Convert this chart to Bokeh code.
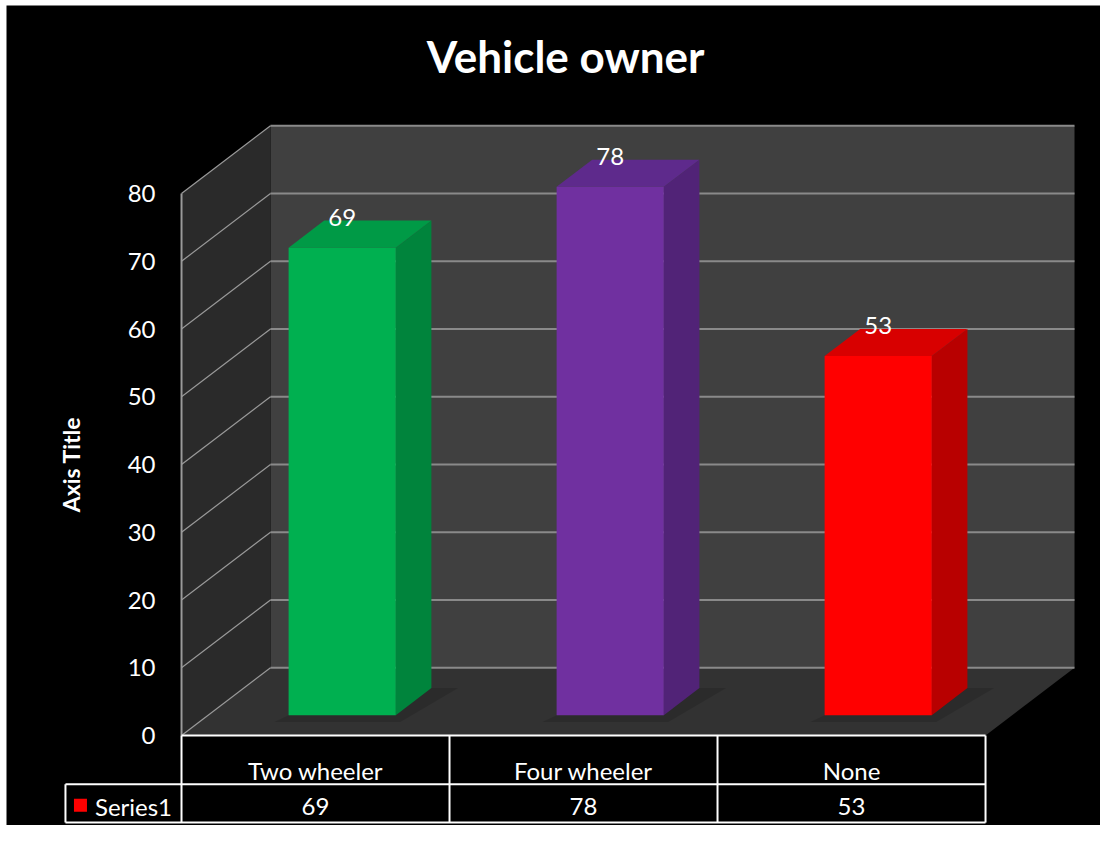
import math
from bokeh.plotting import figure
from bokeh.core.properties import value
from bokeh.embed import file_html
from bokeh.resources import INLINE

# ---- data ----
categories = ["Two wheeler", "Four wheeler", "None"]
values = [69, 78, 53]
series_name = "Series1"
y_ticks = [0, 10, 20, 30, 40, 50, 60, 70, 80]
title_text = "Vehicle owner"
axis_title = "Axis Title"

front_colors = ["#00B050", "#7030A0", "#FF0000"]
side_colors = ["#00843C", "#512377", "#B80000"]
top_colors = ["#009A46", "#5E2A8C", "#D80000"]

# ---- 3D projection constants (data units) ----
DX = 0.332   # depth offset in x (category units)
DY = 10.0    # depth offset in y (value units)
YMAX = y_ticks[-1]
N = len(categories)
BW = 0.2     # half bar width
Z0, Z1 = 0.3, 0.7

def proj(x, y, z):
    return x + z * DX, y + z * DY

FONT = "Lato"

p = figure(width=1100, height=825, x_range=(-0.653, 3.429), y_range=(-13.28, 107.75),
           output_backend="svg", toolbar_location=None,
           min_border_left=6, min_border_top=5, min_border_right=0, min_border_bottom=0,
           background_fill_color="black", border_fill_color="white",
           outline_line_color=None)
p.axis.visible = False
p.grid.visible = False

# walls and floor
back_x = [DX, N + DX, N + DX, DX]
back_y = [DY, DY, YMAX + DY, YMAX + DY]
left_x = [0, DX, DX, 0]
left_y = [0, DY, YMAX + DY, YMAX]
floor_x = [0, N, N + DX, DX]
floor_y = [0, 0, DY, DY]
p.patch(back_x, back_y, fill_color="#404040", line_color=None)
p.patch(left_x, left_y, fill_color="#2a2a2a", line_color=None)
p.patch(floor_x, floor_y, fill_color="#323232", line_color=None)

# gridlines
grid_color = "#8a8a8a"
p.segment(x0=[DX] * len(y_ticks), y0=[t + DY for t in y_ticks],
          x1=[N + DX] * len(y_ticks), y1=[t + DY for t in y_ticks],
          line_color=grid_color, line_width=2)
p.segment(x0=[0] * len(y_ticks), y0=y_ticks,
          x1=[DX] * len(y_ticks), y1=[t + DY for t in y_ticks],
          line_color="#9a9a9a", line_width=1.2)
p.segment(x0=[0], y0=[0], x1=[0], y1=[YMAX], line_color="#9a9a9a", line_width=2)

# bars
fx, fy, sx, sy, tx, ty, shx, shy = [], [], [], [], [], [], [], []
for i, v in enumerate(values):
    xc = i + 0.5
    pts = [proj(xc - BW, 0, Z0), proj(xc + BW, 0, Z0), proj(xc + BW, v, Z0), proj(xc - BW, v, Z0)]
    fx.append([q[0] for q in pts]); fy.append([q[1] for q in pts])
    pts = [proj(xc + BW, 0, Z0), proj(xc + BW, 0, Z1), proj(xc + BW, v, Z1), proj(xc + BW, v, Z0)]
    sx.append([q[0] for q in pts]); sy.append([q[1] for q in pts])
    pts = [proj(xc - BW, v, Z0), proj(xc + BW, v, Z0), proj(xc + BW, v, Z1), proj(xc - BW, v, Z1)]
    tx.append([q[0] for q in pts]); ty.append([q[1] for q in pts])
    pts = [proj(xc - BW - 0.02, 0, Z0 - 0.1), proj(xc + BW + 0.05, 0, Z0 - 0.1),
           proj(xc + BW + 0.1, 0, Z1), proj(xc + BW, 0, Z1), proj(xc - BW, 0, Z0)]
    shx.append([q[0] for q in pts]); shy.append([q[1] for q in pts])

p.patches(shx, shy, fill_color="black", fill_alpha=0.13, line_color=None)
p.patches(sx, sy, fill_color=side_colors, line_color=None)
p.patches(tx, ty, fill_color=top_colors, line_color=None)
p.patches(fx, fy, fill_color=front_colors, line_color=None)

# data labels
lab_x = [i + 0.5 + Z0 * DX for i in range(N)]
lab_y = [v + 7.5 for v in values]
p.text(lab_x, lab_y, text=[str(v) for v in values], text_color="white",
       text_font=value(FONT), text_font_size="24px", text_align="center",
       text_baseline="middle")

# y tick labels
p.text([-0.097] * len(y_ticks), y_ticks, text=[str(t) for t in y_ticks],
       text_color="white", text_font=value(FONT), text_font_size="24px",
       text_align="right", text_baseline="middle")

# axis title
p.text([-0.414], [40], text=[axis_title], angle=math.pi / 2, text_color="white",
       text_font=value(FONT), text_font_style="bold", text_font_size="23px",
       text_align="center", text_baseline="middle")

# chart title
p.text([N / 2 - 0.067], [100.3], text=[title_text], text_color="white",
       text_font=value(FONT), text_font_style="bold", text_font_size="44px",
       text_align="center", text_baseline="middle")

# data table
R1 = -7.2
R2 = -12.85
LEG = -0.433
lc = "white"
p.segment(x0=[0, LEG, LEG], y0=[0, R1, R2], x1=[N, N, N], y1=[0, R1, R2],
          line_color=lc, line_width=2)
vx = [float(i) for i in range(N + 1)]
p.segment(x0=vx, y0=[0] * len(vx), x1=vx, y1=[R2] * len(vx), line_color=lc, line_width=2)
p.segment(x0=[LEG], y0=[R1], x1=[LEG], y1=[R2], line_color=lc, line_width=2)

cx = [i + 0.5 for i in range(N)]
p.text(cx, [-5.2] * N, text=categories, text_color="white", text_font=value(FONT),
       text_font_size="24px", text_align="center", text_baseline="middle")
p.text(cx, [-10.45] * N, text=[str(v) for v in values], text_color="white",
       text_font=value(FONT), text_font_size="24px", text_align="center",
       text_baseline="middle")
# legend key + series name
p.scatter([LEG + 0.056], [-10.3], marker="square", size=13,
          fill_color=front_colors[2], line_color=None)
p.text([LEG + 0.11], [-10.45], text=[series_name], text_color="white",
       text_font=value(FONT), text_font_size="24px", text_align="left",
       text_baseline="middle")

open("out.html", "w").write(file_html(p, INLINE))
